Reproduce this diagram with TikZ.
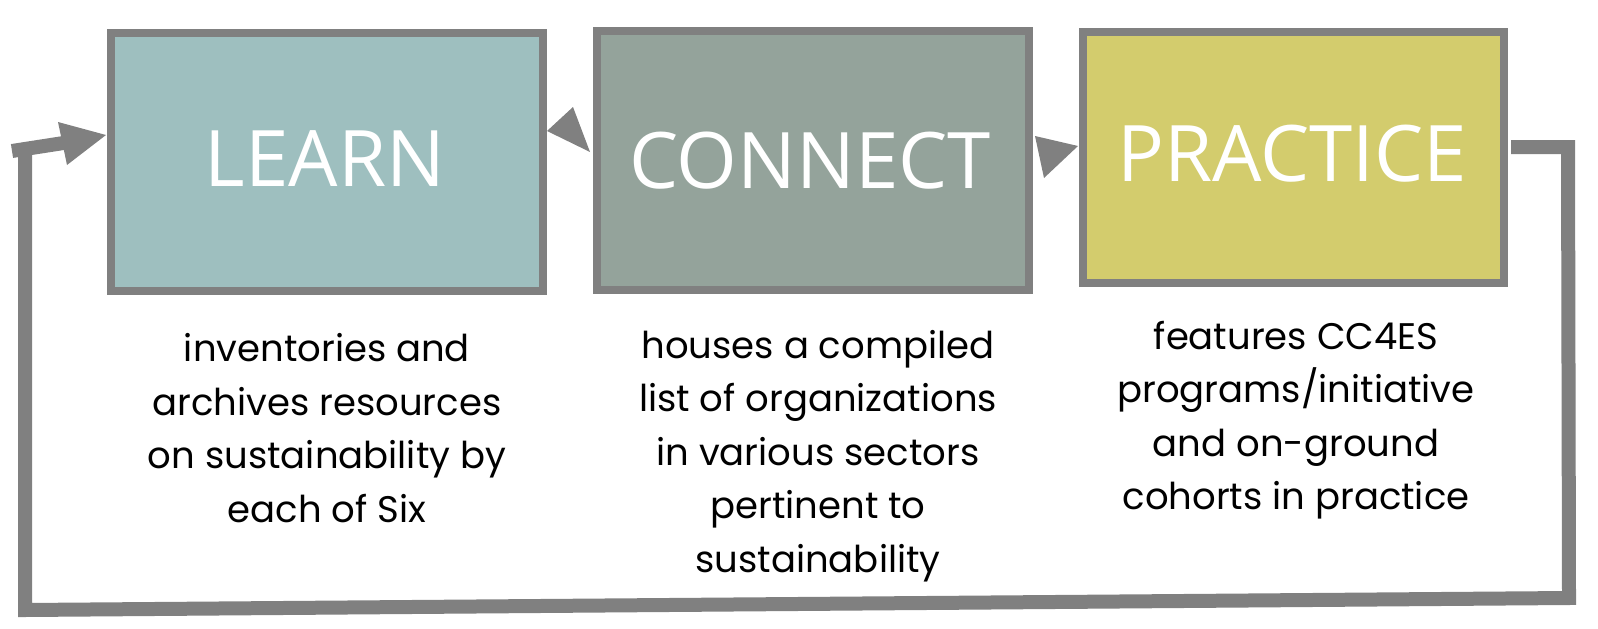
\documentclass[tikz,border=0pt]{standalone}
\usepackage{fontspec}
\setmainfont{Poppins}
\newfontfamily\titlefont{Open Sans}
\definecolor{edge}{HTML}{808080}
\definecolor{learnfill}{HTML}{9EBFBF}
\definecolor{connectfill}{HTML}{94A39B}
\definecolor{practicefill}{HTML}{D3CC6D}
\tikzset{
  stage/.style={draw=edge, line width=8pt, inner sep=0pt},
  title/.style={anchor=base, text=white, font=\titlefont\fontsize{78}{80}\selectfont},
  blurb/.style={align=center, font=\fontsize{37}{53.5}\selectfont},
  loopline/.style={draw=edge, line width=14pt, line join=miter},
  head/.style={fill=edge}
}
\begin{document}
\begin{tikzpicture}[x=1pt, y=-1pt]
\useasboundingbox (0,0) rectangle (1598,629);

% the three stages
\node[stage, fill=learnfill, minimum width=432pt, minimum height=258pt] (learn) at (327,162) {};
\node[stage, fill=connectfill, minimum width=432pt, minimum height=259pt] (connect) at (813,160.5) {};
\node[stage, fill=practicefill, minimum width=421pt, minimum height=251pt] (practice) at (1293.5,157.5) {};

\node[title] (learnt) at (325,186) {LEARN};
\node[title] (connectt) at (810,188) {CONNECT};
\node[title] (practicet) at (1292,181) {PRACTICE};

% descriptions
\node[blurb] (learnd) at (327,428) {inventories and\\archives resources\\on sustainability by\\each of Six};
\node[blurb] (connectd) at (818,456) {houses a compiled\\list of organizations\\in various sectors\\pertinent to\\sustainability};
\node[blurb] (practiced) at (1296,420) {features CC4ES\\programs/initiative\\and on-ground\\cohorts in practice};

% arrowheads between the stages
\fill[head] (547,131) -- (573,107) -- (590,152) -- cycle;
\fill[head] (1078,146) -- (1035,136) -- (1044,178) -- cycle;

% feedback loop from PRACTICE back to LEARN
\coordinate (p0) at (1511,147);
\coordinate (p1) at (1568,147);
\coordinate (p2) at (1569,598);
\coordinate (p3) at (25,610);
\coordinate (p4) at (25,150);
\coordinate (p5) at (70,142);
\draw[loopline] (p0) -- (p1) -- (p2) -- (p3) -- (p4);
\draw[loopline] (12,151) -- (p5);
\fill[head] (106,135) -- (58,122) -- (67,165) -- cycle;
\end{tikzpicture}
\end{document}
